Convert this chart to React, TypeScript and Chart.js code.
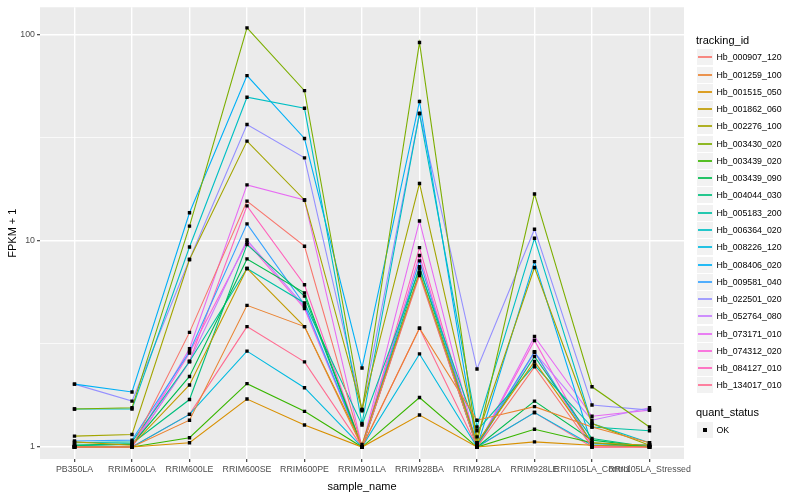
import React, { useEffect, useRef } from "react";
import { Chart, registerables } from "chart.js";

Chart.register(...registerables);

// ---- data ----
const categories = [
  "PB350LA", "RRIM600LA", "RRIM600LE", "RRIM600SE", "RRIM600PE", "RRIM901LA",
  "RRIM928BA", "RRIM928LA", "RRIM928LE", "RRII105LA_Control", "RRII105LA_Stressed",
];

const trackingIds = [
  "Hb_000907_120", "Hb_001259_100", "Hb_001515_050", "Hb_001862_060", "Hb_002276_100",
  "Hb_003430_020", "Hb_003439_020", "Hb_003439_090", "Hb_004044_030", "Hb_005183_200",
  "Hb_006364_020", "Hb_008226_120", "Hb_008406_020", "Hb_009581_040", "Hb_022501_020",
  "Hb_052764_080", "Hb_073171_010", "Hb_074312_020", "Hb_084127_010", "Hb_134017_010",
];

const seriesColors = [
  "#F8766D", "#EA8331", "#D89000", "#C09B00", "#A3A500", "#7CAE00", "#39B600", "#00BB4E",
  "#00BF7D", "#00C1A3", "#00BFC4", "#00BAE0", "#00B0F6", "#35A2FF", "#9590FF", "#C77CFF",
  "#E76BF3", "#FA62DB", "#FF62BC", "#FF6C91",
];

// FPKM + 1 values, one array per tracking_id, in category order
const hb000907_120 = [1.0, 1.0, 3.6, 15.6, 9.43, 1.0, 6.8, 1.0, 2.45, 1.0, 1.0];
const hb001259_100 = [1.0, 1.0, 1.35, 4.87, 3.84, 1.0, 3.77, 1.35, 1.57, 1.25, 1.05];
const hb001515_050 = [1.0, 1.0, 1.05, 1.71, 1.28, 1.0, 1.43, 1.0, 1.06, 1.02, 1.0];
const hb001862_060 = [1.06, 1.02, 2.0, 7.35, 3.84, 1.03, 7.0, 1.05, 2.6, 1.05, 1.02];
const hb002276_100 = [1.13, 1.15, 8.12, 30.5, 15.8, 1.52, 19.0, 1.12, 7.43, 1.3, 1.02];
const hb003430_020 = [1.53, 1.55, 11.8, 108, 53.6, 1.5, 91.8, 1.05, 16.9, 1.96, 1.25];
const hb003439_020 = [1.0, 1.0, 1.11, 2.03, 1.49, 1.0, 1.74, 1.0, 1.22, 1.05, 1.0];
const hb003439_090 = [1.02, 1.03, 2.2, 8.18, 5.6, 1.0, 7.0, 1.0, 1.67, 1.08, 1.0];
const hb004044_030 = [1.02, 1.04, 1.7, 9.6, 5.4, 1.0, 7.5, 1.02, 2.75, 1.1, 1.0];
const hb005183_200 = [1.05, 1.06, 2.6, 7.35, 5.0, 1.28, 7.3, 1.2, 2.5, 1.25, 1.2];
const hb006364_020 = [1.53, 1.53, 9.35, 49.8, 44.0, 1.3, 41.5, 1.25, 10.3, 1.3, 1.05];
const hb008226_120 = [1.02, 1.0, 1.44, 2.92, 1.94, 1.0, 2.83, 1.0, 1.47, 1.02, 1.02];
const hb008406_020 = [2.02, 1.85, 13.7, 63.4, 31.4, 2.42, 47.5, 1.0, 7.94, 1.02, 1.02];
const hb009581_040 = [1.07, 1.08, 2.9, 12.1, 4.9, 1.0, 8.0, 1.03, 2.9, 1.04, 1.02];
const hb022501_020 = [2.02, 1.67, 8.12, 36.7, 25.3, 1.52, 41.5, 2.39, 11.4, 1.6, 1.51];
const hb052764_080 = [1.0, 1.0, 2.6, 10.1, 4.8, 1.0, 7.0, 1.0, 2.88, 1.35, 1.55];
const hb073171_010 = [1.0, 1.0, 3.0, 18.7, 15.8, 1.0, 12.5, 1.0, 3.44, 1.41, 1.51];
const hb074312_020 = [1.0, 1.0, 2.86, 9.83, 4.7, 1.0, 8.5, 1.0, 3.29, 1.02, 1.0];
const hb084127_010 = [1.0, 1.0, 2.6, 14.8, 6.13, 1.0, 9.28, 1.0, 2.9, 1.0, 1.0];
const hb134017_010 = [1.0, 1.0, 1.44, 3.84, 2.59, 1.0, 3.77, 1.0, 1.47, 1.0, 1.0];

const seriesValues = [
  hb000907_120, hb001259_100, hb001515_050, hb001862_060, hb002276_100,
  hb003430_020, hb003439_020, hb003439_090, hb004044_030, hb005183_200,
  hb006364_020, hb008226_120, hb008406_020, hb009581_040, hb022501_020,
  hb052764_080, hb073171_010, hb074312_020, hb084127_010, hb134017_010,
];

const yTickValues = [1, 3.1623, 10, 31.623, 100];
const yMajorLabels: Record<string, string> = { "1": "1", "10": "10", "100": "100" };
const quantStatus = ["OK"];

const FONT = "'Liberation Sans', Arial, Helvetica, sans-serif";

const panelBg = {
  id: "panelBg",
  beforeDraw(chart: any) {
    const { ctx, chartArea } = chart;
    ctx.save();
    ctx.fillStyle = "#EBEBEB";
    ctx.fillRect(chartArea.left, chartArea.top, chartArea.right - chartArea.left, chartArea.bottom - chartArea.top);
    ctx.restore();
  },
};

function isMajor(v: number) {
  return v === 1 || v === 10 || v === 100;
}

export default function App() {
  const canvasRef = useRef<HTMLCanvasElement | null>(null);

  useEffect(() => {
    if (!canvasRef.current) return;
    const lineSets = seriesValues.map((vals, s) => ({
      type: "line" as const,
      label: trackingIds[s],
      data: vals.map((v, i) => ({ x: i, y: v })),
      borderColor: seriesColors[s],
      backgroundColor: seriesColors[s],
      borderWidth: 1.1,
      pointRadius: 0,
      fill: false,
      tension: 0,
      order: 2,
    }));
    const pointSets = seriesValues.map((vals, s) => ({
      type: "line" as const,
      label: trackingIds[s] + " " + quantStatus[0],
      data: vals.map((v, i) => ({ x: i, y: v })),
      showLine: false,
      pointStyle: "rect",
      pointRadius: 2.4,
      pointBackgroundColor: "#000000",
      pointBorderColor: "#000000",
      pointBorderWidth: 0,
      order: 1,
    }));

    const chart = new Chart(canvasRef.current, {
      type: "line",
      data: { datasets: [...lineSets, ...pointSets] as any },
      plugins: [panelBg],
      options: {
        animation: false,
        responsive: false,
        events: [],
        layout: { padding: { top: 5, right: 116, left: 0, bottom: 0 } },
        plugins: { legend: { display: false }, tooltip: { enabled: false } },
        scales: {
          x: {
            type: "linear",
            min: -0.6,
            max: 10.6,
            afterBuildTicks: (scale: any) => {
              scale.ticks = categories.map((_, i) => ({ value: i }));
            },
            afterFit: (scale: any) => {
              scale.height = 41;
            },
            ticks: {
              autoSkip: false,
              maxRotation: 0,
              minRotation: 0,
              padding: 2,
              color: "#4D4D4D",
              font: { family: FONT, size: 8.8 },
              callback: (v: any) => categories[v as number] ?? "",
            },
            grid: {
              color: "#FFFFFF",
              lineWidth: 1.4,
              tickColor: "#333333",
              tickWidth: 1.1,
              tickLength: 3,
              drawTicks: true,
            },
            border: { display: false },
            title: {
              display: true,
              text: "sample_name",
              color: "#000000",
              font: { family: FONT, size: 11 },
              padding: { top: 0, bottom: 6.4 },
            },
          },
          y: {
            type: "logarithmic",
            min: 0.875,
            max: 136,
            afterBuildTicks: (scale: any) => {
              scale.ticks = yTickValues.map((v) => ({ value: v, major: isMajor(v) }));
            },
            afterFit: (scale: any) => {
              scale.width = 40;
            },
            ticks: {
              autoSkip: false,
              padding: 2,
              color: "#4D4D4D",
              font: { family: FONT, size: 8.8 },
              callback: (v: any) => yMajorLabels[String(v)] ?? "",
            },
            grid: {
              color: "#FFFFFF",
              lineWidth: (ctx: any) => (ctx.tick && isMajor(ctx.tick.value) ? 1.4 : 0.7),
              tickColor: (ctx: any) => (ctx.tick && isMajor(ctx.tick.value) ? "#333333" : "rgba(0,0,0,0)"),
              tickWidth: 1.1,
              tickLength: 3,
              drawTicks: true,
            },
            border: { display: false },
            title: {
              display: true,
              text: "FPKM + 1",
              color: "#000000",
              font: { family: FONT, size: 11 },
              padding: { top: 6, bottom: 0 },
            },
          },
        },
      } as any,
    });
    return () => chart.destroy();
  }, []);

  const legendTop = 57.3;
  const legendStep = 17.27;

  return (
    <div style={{ position: "absolute", left: 0, top: 0, width: 800, height: 500, background: "#FFFFFF", fontFamily: FONT }}>
      <canvas ref={canvasRef} width={800} height={500} style={{ position: "absolute", left: 0, top: 0, width: 800, height: 500 }} />
      <div style={{ position: "absolute", left: 696, top: 33, fontSize: 11, lineHeight: "14px", color: "#000" }}>tracking_id</div>
      {trackingIds.map((id, i) => {
        const cy = Math.round(legendTop + legendStep * i);
        return (
          <React.Fragment key={id}>
            <div style={{ position: "absolute", left: 697, top: cy - 8, width: 16, height: 16, background: "#F2F2F2" }}>
              <div style={{ position: "absolute", left: 1, width: 14, top: 7, height: 2, background: seriesColors[i], opacity: 0.85 }} />
            </div>
            <div style={{ position: "absolute", left: 716.5, top: cy - 6, fontSize: 8.8, lineHeight: "12px", color: "#000" }}>{id}</div>
          </React.Fragment>
        );
      })}
      <div style={{ position: "absolute", left: 696, top: 405, fontSize: 11, lineHeight: "14px", color: "#000" }}>quant_status</div>
      <div style={{ position: "absolute", left: 697, top: 422, width: 16, height: 16, background: "#F2F2F2" }}>
        <div style={{ position: "absolute", left: 6, top: 6, width: 4, height: 4, background: "#000" }} />
      </div>
      <div style={{ position: "absolute", left: 716.5, top: 424, fontSize: 8.8, lineHeight: "12px", color: "#000" }}>{quantStatus[0]}</div>
    </div>
  );
}
